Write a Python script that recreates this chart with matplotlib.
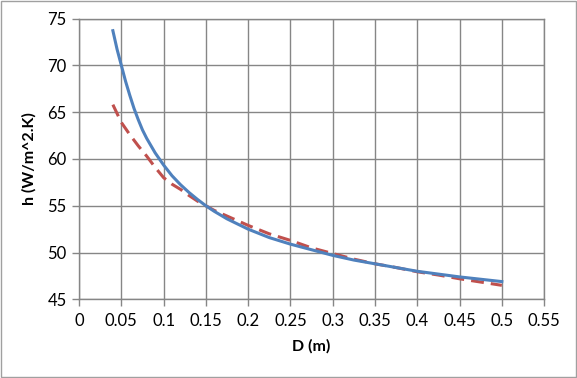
import matplotlib
matplotlib.use("Agg")
import matplotlib.pyplot as plt
from matplotlib.patches import Rectangle

D_blue = [0.04, 0.045, 0.05, 0.055, 0.06, 0.065, 0.07, 0.075, 0.08, 0.09, 0.10, 0.11, 0.12, 0.13, 0.14,
          0.15, 0.16, 0.175, 0.20, 0.225, 0.25, 0.275, 0.30, 0.325, 0.35, 0.375, 0.40, 0.425, 0.45, 0.475, 0.50]
h_blue = [73.7, 71.7, 70.0, 68.3, 66.8, 65.4, 64.2, 63.1, 62.2, 60.65, 59.35, 58.2, 57.25, 56.42, 55.68,
          55.0, 54.4, 53.6, 52.5, 51.6, 50.9, 50.3, 49.7, 49.2, 48.8, 48.4, 48.0, 47.7, 47.4, 47.15, 46.9]

D_red = [0.04, 0.05, 0.06, 0.07, 0.08, 0.09, 0.10, 0.11, 0.12, 0.13, 0.14, 0.15, 0.16, 0.175,
         0.20, 0.225, 0.25, 0.275, 0.30, 0.325, 0.35, 0.375, 0.40, 0.425, 0.45, 0.475, 0.50]
h_red = [65.8, 63.9, 62.6, 61.4, 60.3, 59.1, 58.0, 57.3, 56.75, 56.1, 55.5, 55.0, 54.5, 53.9,
         52.9, 52.0, 51.3, 50.5, 49.9, 49.3, 48.8, 48.4, 47.95, 47.6, 47.2, 46.85, 46.5]

x_ticks = [0, 0.05, 0.1, 0.15, 0.2, 0.25, 0.3, 0.35, 0.4, 0.45, 0.5, 0.55]
x_ticklabels = ["0", "0.05", "0.1", "0.15", "0.2", "0.25", "0.3", "0.35", "0.4", "0.45", "0.5", "0.55"]
y_ticks = [45, 50, 55, 60, 65, 70, 75]

plt.rcParams['font.family'] = ['Lato', 'DejaVu Sans']

fig = plt.figure(figsize=(5.77, 3.78), dpi=100)
ax = fig.add_axes([0.137, 0.208, 0.806, 0.743])

grid_c = '#868686'
ax.plot(D_red, h_red, color='#C0504D', lw=2.2, dashes=(4.2, 2.3), zorder=3)
ax.plot(D_blue, h_blue, color='#4F81BD', lw=2.2, zorder=4)

ax.set_xlim(0, 0.55)
ax.set_ylim(45, 75)
ax.set_xticks(x_ticks)
ax.set_xticklabels(x_ticklabels)
ax.set_yticks(y_ticks)
ax.grid(True, color=grid_c, lw=1.0)
ax.set_axisbelow(True)
for s in ax.spines.values():
    s.set_color(grid_c)
    s.set_linewidth(1.0)
ax.tick_params(axis='both', colors=grid_c, length=5, width=1.0, labelcolor='#000000', labelsize=12)
ax.tick_params(axis='x', pad=5)
ax.tick_params(axis='y', pad=4)

ax.set_xlabel("D (m)", fontsize=11.5, fontweight='bold', labelpad=7)
ax.set_ylabel("h (W/m^2.K)", fontsize=11.5, fontweight='bold', labelpad=8)

fig.patches.append(Rectangle((0.0015, 0.002), 0.997, 0.996, transform=fig.transFigure,
                             fill=False, edgecolor='#A0A0A0', lw=1.0))

fig.savefig("out.png", dpi=100)
